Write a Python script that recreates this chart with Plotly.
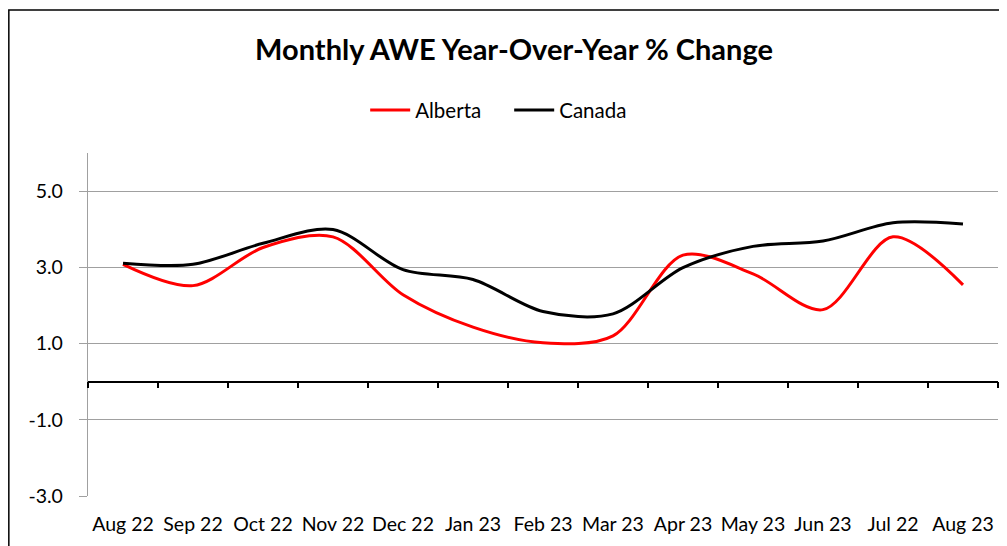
import plotly.graph_objects as go

months = ["Aug 22", "Sep 22", "Oct 22", "Nov 22", "Dec 22", "Jan 23", "Feb 23",
          "Mar 23", "Apr 23", "May 23", "Jun 23", "Jul 22", "Aug 23"]
alberta = [3.08, 2.52, 3.52, 3.80, 2.28, 1.43, 1.02, 1.20, 3.32, 2.83, 1.89, 3.80, 2.54]
canada = [3.11, 3.08, 3.63, 3.99, 2.94, 2.68, 1.84, 1.78, 2.99, 3.55, 3.69, 4.17, 4.14]
ytick_vals = [-3, -1, 1, 3, 5]
ytick_text = ["-3.0", "-1.0", "1.0", "3.0", "5.0"]

FONT = "Lato"

fig = go.Figure()
fig.add_trace(go.Scatter(x=months, y=alberta, name="Alberta", mode="lines",
                         line=dict(color="#ff0000", width=3, shape="spline", smoothing=0.9)))
fig.add_trace(go.Scatter(x=months, y=canada, name="Canada", mode="lines",
                         line=dict(color="#000000", width=3, shape="spline", smoothing=0.9)))
# invisible trace to carry the zero-line category axis
fig.add_trace(go.Scatter(x=months, y=canada, xaxis="x2", mode="lines",
                         line=dict(width=0, color="rgba(0,0,0,0)"),
                         showlegend=False, hoverinfo="skip"))

fig.update_layout(
    width=1007, height=546,
    margin=dict(l=80, r=17, t=145, b=58),
    paper_bgcolor="white", plot_bgcolor="white",
    font=dict(family=FONT, size=19, color="#000000"),
    title=dict(text="<b>Monthly AWE Year-Over-Year % Change</b>",
               x=0.5025, xanchor="center", y=0.923, yanchor="middle",
               font=dict(family=FONT, size=29, color="#000000")),
    legend=dict(orientation="h", x=0.3046, xanchor="left", y=1.125, yanchor="middle",
                font=dict(family=FONT, size=20.5), itemwidth=40, traceorder="normal",
                entrywidth=89, entrywidthmode="pixels",
                bgcolor="rgba(0,0,0,0)"),
    showlegend=True,
    xaxis=dict(type="category", categoryorder="array", categoryarray=months,
               range=[-0.5, 12.5], showline=False, showgrid=False, ticks="",
               zeroline=False, ticklabelstandoff=14, automargin=False,
               tickfont=dict(family=FONT, size=19.5)),
    xaxis2=dict(type="category", categoryorder="array", categoryarray=months,
                range=[-0.5, 12.5], overlaying="x", anchor="free", position=1/3,
                side="bottom", showline=True, linecolor="#000000", linewidth=1.5,
                ticks="outside", tickson="boundaries", ticklen=6, tickcolor="#000000",
                tickwidth=1.5, showticklabels=False, showgrid=False, zeroline=False,
                automargin=False),
    yaxis=dict(range=[-3, 6], tickmode="array", tickvals=ytick_vals, ticktext=ytick_text,
               showgrid=True, gridcolor="#a0a0a0", gridwidth=1.3,
               showline=True, linecolor="#a0a0a0", linewidth=1.3,
               ticks="outside", ticklen=8, tickcolor="#a0a0a0", tickwidth=1.3,
               zeroline=False, ticklabelstandoff=12, automargin=False,
               tickfont=dict(family=FONT, size=19.5)),
    shapes=[dict(type="rect", xref="paper", yref="paper",
                 x0=-0.087, x1=1.05, y0=-0.25, y1=1.417,
                 line=dict(color="#000000", width=1.5), layer="below")],
)

fig.write_html("out.html")
